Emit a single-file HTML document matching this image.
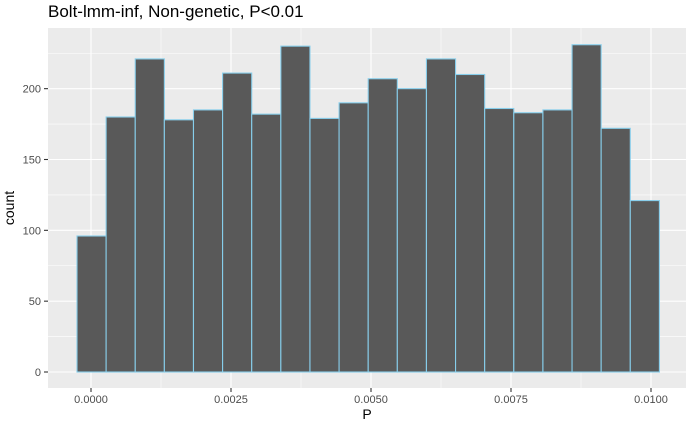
<!DOCTYPE html>
<html><head><meta charset="utf-8"><style>
body{margin:0;background:#fff;font-family:"Liberation Sans",sans-serif}
svg text{font-family:"Liberation Sans",sans-serif}
</style></head><body>
<svg width="686" height="425">
<text x="48" y="17" font-size="17" fill="#000">Bolt-lmm-inf, Non-genetic, P&lt;0.01</text>
<rect x="48" y="28" width="638" height="360" fill="#ebebeb"/>
<g id="grid"></g><g id="bars"></g><g id="axes"></g>
<text x="367" y="419" font-size="14" text-anchor="middle">P</text>
<text transform="translate(14,208) rotate(-90)" font-size="14" text-anchor="middle">count</text>
</svg>
<script>
const counts=[96,180,221,178,185,211,182,230,179,190,207,200,221,210,186,183,185,231,172,121];
const binStart=-0.00025, binWidth=0.00052;
const xTicks=[0,0.0025,0.005,0.0075,0.01];
const xTickLabels=["0.0000","0.0025","0.0050","0.0075","0.0100"];
const yTicks=[0,50,100,150,200];
const X=v=>91+v*56000, Y=v=>372-v*1.4167;
const ns="http://www.w3.org/2000/svg";
function mk(t,a,p){const e=document.createElementNS(ns,t);for(const k in a)e.setAttribute(k,a[k]);p.appendChild(e);return e;}
const g=document.getElementById('grid'),b=document.getElementById('bars'),ax=document.getElementById('axes');
for(let i=0;i<yTicks.length;i++){
  const y=Y(yTicks[i]);
  let l=mk('line',{x1:48,x2:686,y1:y,y2:y,stroke:'#fff','stroke-width':1.1},g);
  
  const m=Y(yTicks[i]+25);
  l=mk('line',{x1:48,x2:686,y1:m,y2:m,stroke:'#fff','stroke-width':0.55},g);
  
  l=mk('line',{x1:44,x2:48,y1:y,y2:y,stroke:'#333','stroke-width':1.1},ax);
  
  const t=mk('text',{x:41,y:y+4,'font-size':11,fill:'#4d4d4d','text-anchor':'end'},ax);t.textContent=yTicks[i];
  
}
for(let i=0;i<xTicks.length;i++){
  const x=X(xTicks[i]);
  let l=mk('line',{x1:x,x2:x,y1:28,y2:388,stroke:'#fff','stroke-width':1.1},g);
  
  if(i<xTicks.length-1){const m=X(xTicks[i]+0.00125);
  l=mk('line',{x1:m,x2:m,y1:28,y2:388,stroke:'#fff','stroke-width':0.55},g);
  }
  l=mk('line',{x1:x,x2:x,y1:388,y2:392,stroke:'#333','stroke-width':1.1},ax);
  
  const t=mk('text',{x:x,y:403,'font-size':11,fill:'#4d4d4d','text-anchor':'middle'},ax);t.textContent=xTickLabels[i];
  
}
for(let i=0;i<counts.length;i++){
  const x0=X(binStart+i*binWidth),x1=X(binStart+(i+1)*binWidth);
  const r=mk('rect',{x:x0,y:Y(counts[i]),width:x1-x0,height:Y(0)-Y(counts[i]),fill:'#595959',stroke:'#87ceeb','stroke-width':1.1},b);
  
  
}
</script>
</body></html>
